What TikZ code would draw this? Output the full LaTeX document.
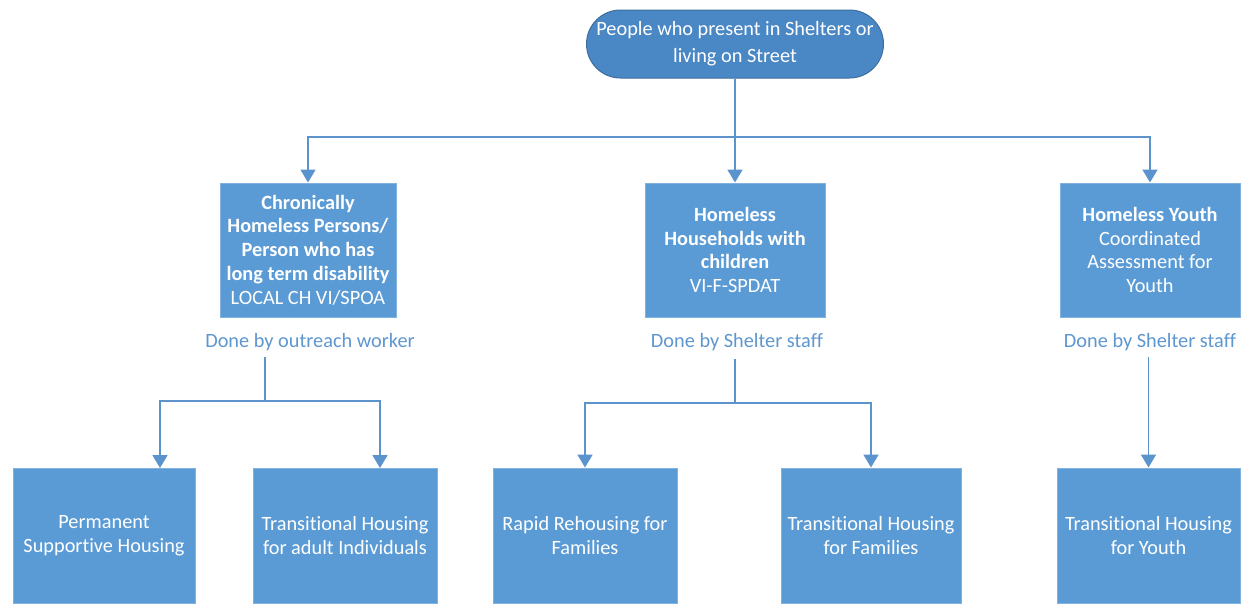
\documentclass[tikz,border=0pt]{standalone}
\usepackage{fontspec}
\setmainfont{Carlito}[Ligatures={NoCommon}]
\usetikzlibrary{arrows.meta}
\definecolor{boxblue}{HTML}{5B9BD5}
\definecolor{boxedge}{HTML}{80B1DF}
\definecolor{topblue}{HTML}{4A87C5}
\definecolor{topedge}{HTML}{3F6E9E}
\definecolor{linkblue}{HTML}{5B93CC}
\definecolor{noteblue}{HTML}{5E96CF}
\begin{document}
\begin{tikzpicture}[x=1pt,y=-1pt,
  boxnode/.style={draw=boxedge, line width=1pt, fill=boxblue, text=white, align=center,
    inner sep=0pt, font=\fontsize{20.3}{23.8}\selectfont},
  topnode/.style={draw=topedge, line width=1pt, fill=topblue, text=white, align=center,
    inner sep=0pt, rounded corners=34pt, minimum width=297pt, minimum height=68pt,
    font=\fontsize{20.3}{27}\selectfont},
  note/.style={text=noteblue, inner sep=0pt, font=\fontsize{20.3}{24}\selectfont},
  link/.style={draw=linkblue, line width=1.8pt},
  arr/.style={link, -{Triangle[width=15pt,length=13pt]}}]
\useasboundingbox (0,0) rectangle (1245,603);

% top
\node[topnode] (top) at (735,44) {People who present in Shelters or\\living on Street};

% middle row
\node[boxnode, minimum width=176pt, minimum height=134pt] (b1) at (308,250)
  {\textbf{Chronically}\\\textbf{Homeless Persons/}\\\textbf{Person who has}\\\textbf{long term disability}\\LOCAL CH VI/SPOA};
\node[boxnode, minimum width=180pt, minimum height=134pt] (b2) at (735,250)
  {\textbf{Homeless}\\\textbf{Households with}\\\textbf{children}\\VI-F-SPDAT};
\node[boxnode, minimum width=180pt, minimum height=134pt] (b3) at (1150,250)
  {\textbf{Homeless Youth}\\Coordinated\\Assessment for\\Youth};

% notes
\node[note] (n1) at (310,342) {Done by outreach worker};
\node[note] (n2) at (737,342) {Done by Shelter staff};
\node[note] (n3) at (1150,342) {Done by Shelter staff};

% bottom row
\node[boxnode, minimum width=182pt, minimum height=135pt] (bA) at (104,535.5)
  {Permanent\\Supportive Housing};
\node[boxnode, minimum width=184pt, minimum height=135pt] (bB) at (345,535.5)
  {Transitional Housing\\for adult Individuals};
\node[boxnode, minimum width=184pt, minimum height=135pt] (bC) at (585,535.5)
  {Rapid Rehousing for\\Families};
\node[boxnode, minimum width=180pt, minimum height=135pt] (bD) at (871,535.5)
  {Transitional Housing\\for Families};
\node[boxnode, minimum width=183pt, minimum height=135pt] (bE) at (1148.5,535.5)
  {Transitional Housing\\for Youth};

% connectors top
\coordinate (j0) at (735,137);
\draw[link] (top.south) -- (j0);
\draw[arr] (j0) -| (b1.north);
\draw[arr] (j0) -| (b3.north);
\draw[arr] (j0) -- (b2.north);

% left branch
\coordinate (s1) at (265,357);
\coordinate (j1) at (265,401);
\coordinate (tA) at (160,468);
\coordinate (tB) at (380,468);
\draw[link] (s1) -- (j1);
\draw[arr] (j1) -| (tA);
\draw[arr] (j1) -| (tB);

% center branch
\coordinate (s2) at (735,359);
\coordinate (j2) at (735,403);
\draw[link] (s2) -- (j2);
\draw[arr] (j2) -| (bC.north);
\draw[arr] (j2) -| (bD.north);

% right branch
\coordinate (s3) at (1148.5,357);
\draw[arr] (s3) -- (bE.north);
\end{tikzpicture}
\end{document}
